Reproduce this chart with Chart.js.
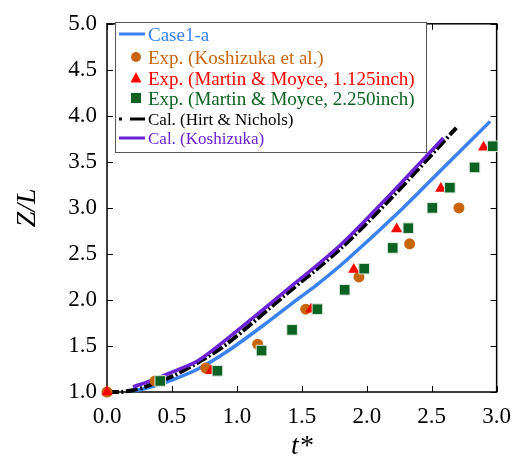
<!DOCTYPE html>
<html><head><meta charset="utf-8">
<script src="https://cdn.jsdelivr.net/npm/chart.js@4"></script>
<style>html,body{margin:0;padding:0;background:#fff}canvas{display:block}</style>
</head><body>
<canvas id="c" width="522" height="461"></canvas>
<script>
// ---- data ----
const xTickLabels = ['0.0','0.5','1.0','1.5','2.0','2.5','3.0'];
const yTickLabels = ['1.0','1.5','2.0','2.5','3.0','3.5','4.0','4.5','5.0'];

const case1aX = [0.21, 0.35, 0.5, 0.7, 0.93, 1.2, 1.44, 1.62, 1.85, 2.28, 2.6, 2.95];
const case1aY = [1.01, 1.06, 1.13, 1.25, 1.445, 1.72, 1.98, 2.17, 2.44, 3.0, 3.45, 3.94];

const hirtX = [0, 0.1, 0.2, 0.28, 0.5, 0.7, 0.93, 1.36, 1.8, 2.17, 2.69];
const hirtY = [1.0, 1.0, 1.02, 1.05, 1.17, 1.32, 1.53, 2.04, 2.56, 3.08, 3.87];

const calKoshX = [0.2, 0.35, 0.5, 0.7, 0.9, 1.36, 1.8, 2.17, 2.59];
const calKoshY = [1.056, 1.13, 1.215, 1.34, 1.55, 2.08, 2.6, 3.13, 3.76];

const expKoshX = [0, 0.37, 0.76, 1.16, 1.53, 1.94, 2.33, 2.71];
const expKoshY = [1.0, 1.12, 1.26, 1.52, 1.9, 2.25, 2.61, 3.0];

const martin1X = [0, 0.80, 1.57, 1.90, 2.23, 2.57, 2.90];
const martin1Y = [1.0, 1.23, 1.9, 2.33, 2.77, 3.21, 3.66];

const martin2X = [0.41, 0.85, 1.19, 1.425, 1.62, 1.83, 1.98, 2.2, 2.32, 2.505, 2.64, 2.83, 2.97];
const martin2Y = [1.12, 1.23, 1.45, 1.675, 1.9, 2.11, 2.34, 2.565, 2.78, 3.0, 3.22, 3.44, 3.67];

const legendLabels = ['Case1-a','Exp. (Koshizuka et al.)','Exp. (Martin & Moyce, 1.125inch)','Exp. (Martin & Moyce, 2.250inch)','Cal. (Hirt & Nichols)','Cal. (Koshizuka)'];

const pts = (xs, ys) => xs.map((x, i) => ({x, y: ys[i]}));

const C_BLUE = '#3a82f2', C_ORANGE = '#c8650c', C_RED = '#ff0000', C_GREEN = '#0b6222', C_BLACK = '#000000', C_PURPLE = '#6a22d4';
const SERIF = '"Liberation Serif", "Times New Roman", serif';

const framePlugin = {
  id: 'frame',
  beforeDatasetsDraw(chart) {
    const {ctx, chartArea: a, scales} = chart;
    ctx.save();
    ctx.strokeStyle = '#000';
    ctx.lineWidth = 1.5;
    ctx.strokeRect(a.left, a.top, a.right - a.left, a.bottom - a.top);
    ctx.lineWidth = 1;
    const tl = 6;
    scales.x.ticks.forEach(t => {
      const p = Math.round(scales.x.getPixelForValue(t.value)) + 0.5;
      ctx.beginPath();
      ctx.moveTo(p, a.bottom); ctx.lineTo(p, a.bottom - tl);
      ctx.moveTo(p, a.top); ctx.lineTo(p, a.top + tl);
      ctx.stroke();
    });
    scales.y.ticks.forEach(t => {
      const p = Math.round(scales.y.getPixelForValue(t.value)) + 0.5;
      ctx.beginPath();
      ctx.moveTo(a.left, p); ctx.lineTo(a.left + tl, p);
      ctx.moveTo(a.right, p); ctx.lineTo(a.right - tl, p);
      ctx.stroke();
    });
    ctx.restore();
  }
};

const legendPlugin = {
  id: 'boxLegend',
  afterDatasetsDraw(chart) {
    const ctx = chart.ctx;
    const L = 115, T = 22, R = 426, B = 152;
    ctx.save();
    ctx.fillStyle = '#fff';
    ctx.fillRect(L, T, R - L, B - T);
    ctx.strokeStyle = '#555';
    ctx.lineWidth = 1;
    ctx.strokeRect(L + 0.5, T + 0.5, R - L, B - T);
    const tx = 148;
    const rows = [
      {y: 36, color: C_BLUE, size: 19, mark: 'line', mc: C_BLUE},
      {y: 59, color: C_ORANGE, size: 19, mark: 'circle', mc: C_ORANGE},
      {y: 80, color: C_RED, size: 19, mark: 'tri', mc: C_RED},
      {y: 100, color: C_GREEN, size: 19, mark: 'rect', mc: C_GREEN},
      {y: 121, color: C_BLACK, size: 17, mark: 'dash', mc: C_BLACK},
      {y: 140, color: C_PURPLE, size: 17, mark: 'line', mc: C_PURPLE}
    ];
    rows.forEach((r, i) => {
      ctx.fillStyle = r.mc; ctx.strokeStyle = r.mc;
      const my = r.y - 2;
      if (r.mark === 'line') {
        ctx.lineWidth = 3; ctx.beginPath(); ctx.moveTo(119, my); ctx.lineTo(145, my); ctx.stroke();
      } else if (r.mark === 'dash') {
        ctx.lineWidth = 3; ctx.beginPath(); ctx.moveTo(119, my); ctx.lineTo(122, my); ctx.moveTo(130, my); ctx.lineTo(145, my); ctx.stroke();
      } else if (r.mark === 'circle') {
        ctx.beginPath(); ctx.arc(136, my, 5, 0, Math.PI * 2); ctx.fill();
      } else if (r.mark === 'tri') {
        ctx.beginPath(); ctx.moveTo(136, my - 6); ctx.lineTo(141.5, my + 4.5); ctx.lineTo(130.5, my + 4.5); ctx.closePath(); ctx.fill();
      } else if (r.mark === 'rect') {
        ctx.fillRect(131, my - 5, 10, 10);
      }
      ctx.fillStyle = r.color;
      ctx.font = r.size + 'px ' + SERIF;
      ctx.textBaseline = 'middle';
      ctx.textAlign = 'left';
      ctx.fillText(legendLabels[i], tx, r.y);
    });
    ctx.restore();
  }
};

new Chart(document.getElementById('c'), {
  type: 'scatter',
  data: {
    datasets: [
      {label: legendLabels[0], data: pts(case1aX, case1aY), showLine: true, borderColor: C_BLUE, borderWidth: 3.5, pointRadius: 0, tension: 0.3, order: 6, clip: false},
      {label: legendLabels[4], data: pts(hirtX, hirtY), showLine: true, borderColor: C_BLACK, borderWidth: 4, borderDash: [12, 2.5, 2, 2.5], pointRadius: 0, tension: 0.3, order: 5, clip: false},
      {label: legendLabels[5], data: pts(calKoshX, calKoshY), showLine: true, borderColor: C_PURPLE, borderWidth: 3.5, pointRadius: 0, tension: 0.3, order: 4, clip: false},
      {label: legendLabels[1], data: pts(expKoshX, expKoshY), pointStyle: 'circle', pointRadius: 5.5, backgroundColor: C_ORANGE, borderColor: C_ORANGE, borderWidth: 0, order: 3, clip: false},
      {label: legendLabels[2], data: pts(martin1X, martin1Y), pointStyle: 'triangle', pointRadius: 6.5, backgroundColor: C_RED, borderColor: C_RED, borderWidth: 0, order: 2, clip: false},
      {label: legendLabels[3], data: pts(martin2X, martin2Y), pointStyle: 'rect', pointRadius: 7.5, backgroundColor: C_GREEN, borderColor: '#dfe9df', borderWidth: 1, order: 1, clip: false}
    ]
  },
  options: {
    responsive: false,
    animation: false,
    layout: {padding: {left: 0, top: 15, right: 20, bottom: 0}},
    plugins: {legend: {display: false}, tooltip: {enabled: false}},
    scales: {
      x: {
        type: 'linear', min: 0, max: 3, position: 'bottom',
        afterBuildTicks: s => { s.ticks = xTickLabels.map(v => ({value: parseFloat(v)})); },
        afterFit: s => { s.height = 69; },
        grid: {display: false, drawTicks: false},
        border: {display: false},
        ticks: {color: '#000', font: {family: SERIF, size: 23}, padding: 11,
          callback: (v, i) => xTickLabels[i]},
        title: {display: true, text: 't*', color: '#000', font: {family: SERIF, size: 28, style: 'italic', lineHeight: 1}, padding: {top: 0, bottom: 0}}
      },
      y: {
        type: 'linear', min: 1, max: 5, position: 'left',
        afterBuildTicks: s => { s.ticks = yTickLabels.map(v => ({value: parseFloat(v)})); },
        afterFit: s => { s.width = 107; },
        grid: {display: false, drawTicks: false},
        border: {display: false},
        ticks: {color: '#000', font: {family: SERIF, size: 23}, padding: 10,
          callback: (v, i) => yTickLabels[i]},
        title: {display: true, text: 'Z/L', color: '#000', font: {family: SERIF, size: 28, style: 'italic', lineHeight: 1}, padding: {top: 14, bottom: 0}}
      }
    }
  },
  plugins: [framePlugin, legendPlugin]
});
</script>
</body></html>
